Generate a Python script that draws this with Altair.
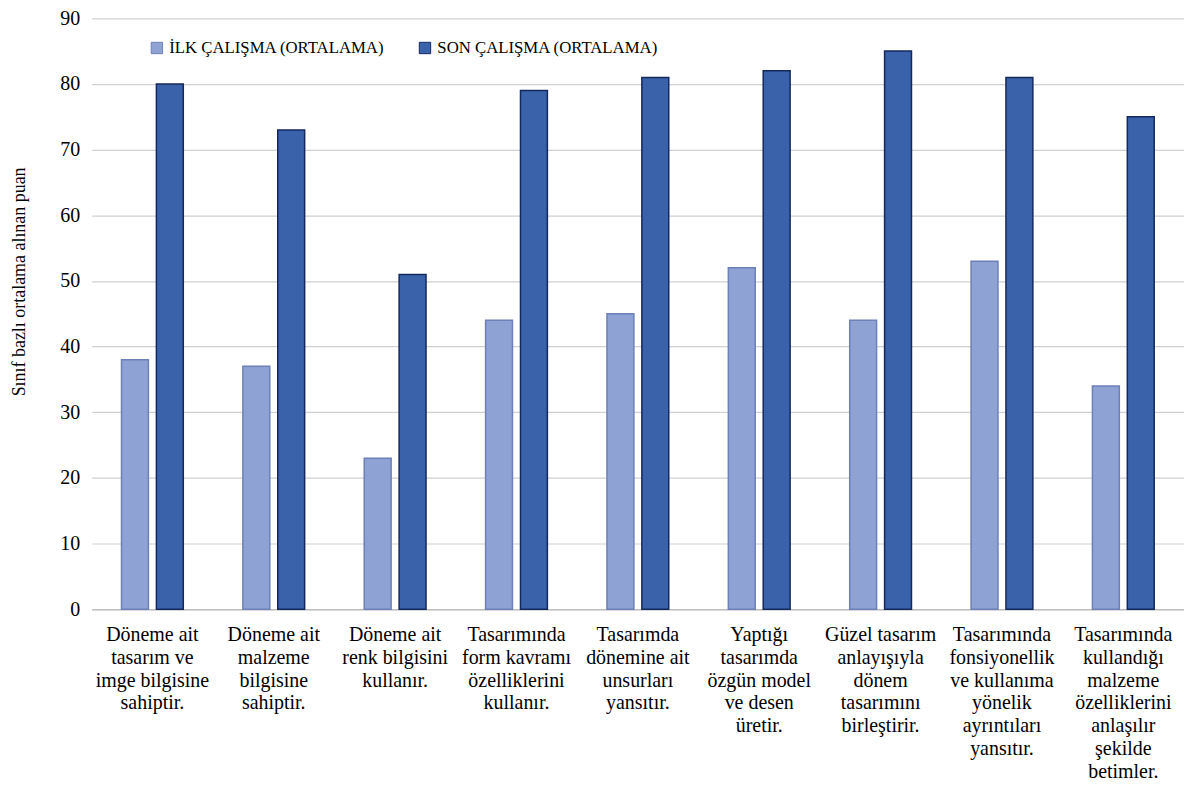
import altair as alt
import pandas as pd

categories = [
    "Döneme ait\ntasarım ve\nimge bilgisine\nsahiptir.",
    "Döneme ait\nmalzeme\nbilgisine\nsahiptir.",
    "Döneme ait\nrenk bilgisini\nkullanır.",
    "Tasarımında\nform kavramı\nözelliklerini\nkullanır.",
    "Tasarımda\ndönemine ait\nunsurları\nyansıtır.",
    "Yaptığı\ntasarımda\nözgün model\nve desen\nüretir.",
    "Güzel tasarım\nanlayışıyla\ndönem\ntasarımını\nbirleştirir.",
    "Tasarımında\nfonsiyonellik\nve kullanıma\nyönelik\nayrıntıları\nyansıtır.",
    "Tasarımında\nkullandığı\nmalzeme\nözelliklerini\nanlaşılır\nşekilde\nbetimler.",
]
series = ["İLK ÇALIŞMA (ORTALAMA)", "SON ÇALIŞMA (ORTALAMA)"]
ilk = [38, 37, 23, 44, 45, 52, 44, 53, 34]
son = [80, 73, 51, 79, 81, 82, 85, 81, 75]

rows = []
for i, c in enumerate(categories):
    rows.append({"cat": c, "seri": series[0], "puan": ilk[i]})
    rows.append({"cat": c, "seri": series[1], "puan": son[i]})
df = pd.DataFrame(rows)

FONT = "Times New Roman, Liberation Serif, serif"

chart = alt.Chart(df).mark_bar(strokeWidth=1.5).encode(
    x=alt.X("cat:N", sort=categories,
            scale=alt.Scale(paddingInner=0, paddingOuter=0),
            axis=alt.Axis(title=None, labelAngle=0, labelExpr="split(datum.label, '\\n')",
                          labelFont=FONT, labelFontSize=20, labelColor="#000000",
                          labelLineHeight=23, labelPadding=15, ticks=False,
                          domainColor="#bfbfbf", domainWidth=1.5, labelLimit=200)),
    xOffset=alt.XOffset("seri:N", sort=series,
                        scale=alt.Scale(paddingInner=0.229, paddingOuter=0.854)),
    y=alt.Y("puan:Q", scale=alt.Scale(domain=[0, 90], nice=False),
            axis=alt.Axis(title="Sınıf bazlı ortalama alınan puan", values=list(range(0, 91, 10)),
                          labelFont=FONT, titleFont=FONT,
                          labelFontSize=20, labelColor="#000000",
                          titleFontSize=18, titleFontWeight="normal",
                          titleColor="#000000", titlePadding=31, labelPadding=12,
                          titleY=264,
                          domain=False, ticks=False, gridColor="#d0d0d0", gridWidth=1.2)),
    color=alt.Color("seri:N", sort=series,
                    scale=alt.Scale(domain=series, range=["#8fa2d4", "#3a62aa"]),
                    legend=alt.Legend(title=None, orient="none", legendX=57, legendY=21,
                                      direction="horizontal", symbolType="square",
                                      symbolSize=130, labelFont=FONT, labelFontSize=16.8,
                                      labelLimit=400,
                                      labelColor="#000000", columnPadding=32,
                                      symbolStrokeWidth=1, labelOffset=4)),
    stroke=alt.Stroke("seri:N", sort=series,
                      scale=alt.Scale(domain=series, range=["#6d80b8", "#14285e"]),
                      legend=None),
).properties(
    width=1096, height=593,
    autosize=alt.AutoSizeParams(type="none"),
    padding={"left": 84, "top": 9, "right": 0, "bottom": 175},
).configure(font=FONT).configure_view(stroke=None)

chart.save("out.html", embed_options={"renderer": "svg", "actions": False})
